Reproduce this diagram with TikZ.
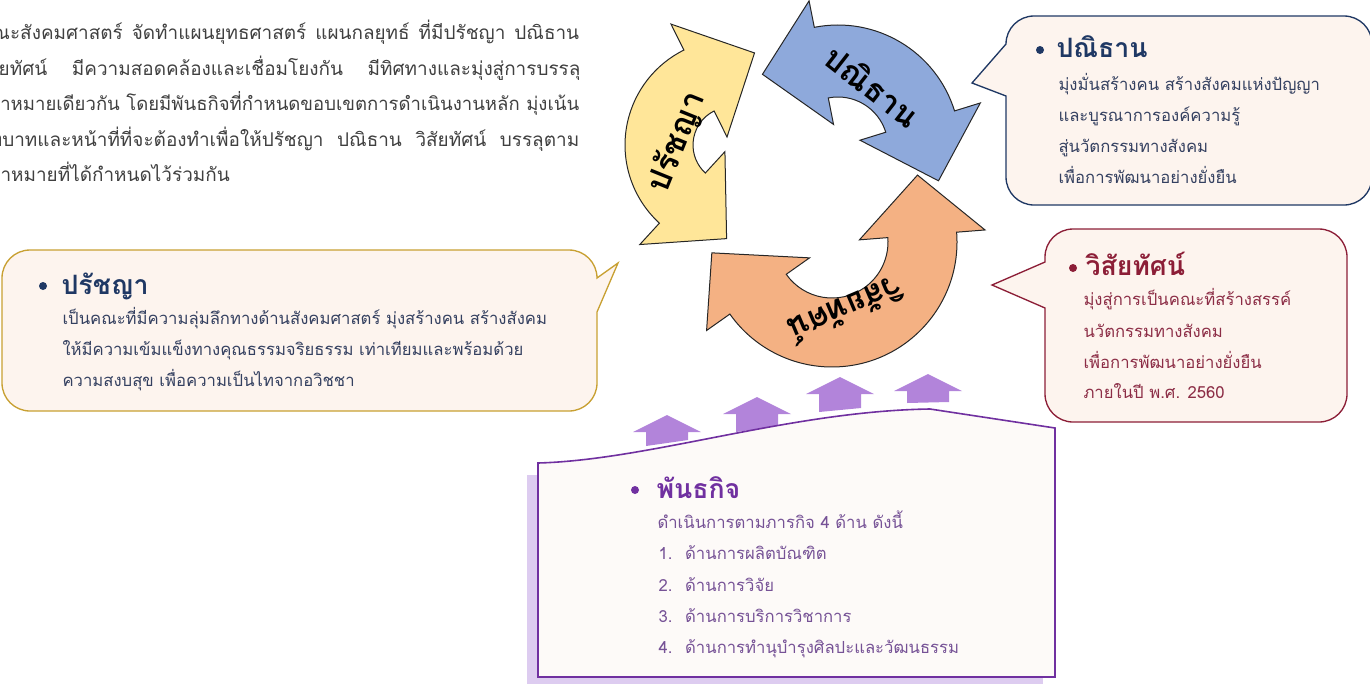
\documentclass[tikz,border=0pt]{standalone}
\usepackage{fontspec}
\setmainfont[Script=Thai]{Loma}
\usetikzlibrary{calc}

\definecolor{cyellow}{RGB}{255,230,153}
\definecolor{cblue}{RGB}{142,169,219}
\definecolor{corange}{RGB}{244,177,131}
\definecolor{cnavy}{RGB}{31,56,100}
\definecolor{cnavytext}{RGB}{52,64,96}
\definecolor{cgold}{RGB}{200,160,50}
\definecolor{cmaroon}{RGB}{140,30,55}
\definecolor{cmaroontext}{RGB}{140,45,70}
\definecolor{cpurple}{RGB}{112,48,160}
\definecolor{cpurpletext}{RGB}{118,82,150}
\definecolor{clavender}{RGB}{178,132,218}
\definecolor{cshadow}{RGB}{221,204,240}
\definecolor{cpaper}{RGB}{253,244,238}
\definecolor{cbox}{RGB}{253,250,248}
\definecolor{cgraytext}{RGB}{64,64,64}

\tikzset{every picture/.style={line width=0.75pt},
  para/.style={anchor=west, inner sep=0pt, text=cgraytext, font=\fontsize{14.2}{17}\selectfont, text height=9pt, text depth=0pt},
  bodytext/.style={anchor=west, inner sep=0pt, font=\fontsize{12.5}{15}\selectfont, text height=8pt, text depth=0pt},
  titletext/.style={anchor=west, inner sep=0pt, font=\bfseries\fontsize{20}{24}\selectfont, text height=13pt, text depth=0pt},
  arrowlabel/.style={inner sep=0pt, font=\bfseries\fontsize{24}{28}\selectfont},
  callout/.style={line width=1pt, fill=cpaper}}

% curved arrow with a head at both ends: centre, inner r, outer r, start, end, fill, tilt of end head
\newcommand{\cyclearrow}[7]{%
  \pgfmathsetmacro{\rmid}{(#2+#3)/2}
  \pgfmathsetmacro{\rbo}{\rmid+63}
  \pgfmathsetmacro{\rbi}{\rmid-63}
  \pgfmathsetmacro{\aend}{#5+90+#7}
  \pgfmathsetmacro{\astart}{#4-90}
  \draw[fill=#6, draw=black!85]
    ($(#1)+(#4:#3)$) arc[start angle=#4, end angle=#5, radius=#3]
    -- ($(#1)+(#5:\rbo)$) -- ($(#1)+(#5:\rmid)+(\aend:62)$) -- ($(#1)+(#5:\rbi)$)
    -- ($(#1)+(#5:#2)$) arc[start angle=#5, end angle=#4, radius=#2]
    -- ($(#1)+(#4:\rbi)$) -- ($(#1)+(#4:\rmid)+(\astart:60)$) -- ($(#1)+(#4:\rbo)$) -- cycle;
}

\begin{document}
\begin{tikzpicture}[x=0.75pt,y=0.75pt,yscale=-1,xscale=1]
	\useasboundingbox (0,0) rectangle (1370,683);

	% intro paragraph, cut at the left edge
	\node[para] (intro1) at (0,33) {\hbox to 434pt{\kern-6pt ณะสังคมศาสตร์ จัดทำแผนยุทธศาสตร์ แผนกลยุทธ์ ที่มีปรัชญา ปณิธาน}};
	\node[para] (intro2) at (0,69) {\hbox to 435pt{\kern-10pt สัยทัศน์  มีความสอดคล้องและเชื่อมโยงกัน  มีทิศทางและมุ่งสู่การบรรลุ}};
	\node[para, font=\fontsize{13.9}{17}\selectfont] (intro3) at (0,104) {\hbox to 434pt{\kern-9pt ป้าหมายเดียวกัน โดยมีพันธกิจที่กำหนดขอบเขตการดำเนินงานหลัก มุ่งเน้น}};
	\node[para] (intro4) at (0,140) {\hbox to 434pt{\kern-8pt ทบาทและหน้าที่ที่จะต้องทำเพื่อให้ปรัชญา ปณิธาน วิสัยทัศน์ บรรลุตาม}};
	\node[para] (intro5) at (0,175) {\kern-9pt ป้าหมายที่ได้กำหนดไว้ร่วมกัน};

	% cycle of arrows
	\coordinate (ycen) at (731,145);
	\coordinate (bcen) at (838,147);
	\coordinate (ocen) at (832,242);
	\cyclearrow{ycen}{38}{106}{132.5}{243.6}{cyellow}{0}
	\cyclearrow{bcen}{50}{122}{258.8}{342.8}{cblue}{0}
	\cyclearrow{ocen}{56}{125}{-4.5}{144.8}{corange}{-13}
	\node[arrowlabel, rotate=68] (lblphil) at (677,142) {ปรัชญา};
	\node[arrowlabel, rotate=-38] (lblresolve) at (873,86) {ปณิธาน};
	\node[arrowlabel, rotate=-157] (lblvision) at (846,311) {วิสัยทัศน์};

	% callout: resolution
	\draw[callout, draw=cnavy] (972,83) -- (1006,44) arc[start angle=180, end angle=270, radius=28] -- (1344,16) arc[start angle=270, end angle=360, radius=28] -- (1372,177) arc[start angle=0, end angle=90, radius=28] -- (1034,205) arc[start angle=90, end angle=180, radius=28] -- (1006,96) -- cycle;
	\fill[cnavy] (1040,50) circle (4);
	\node[titletext, text=cnavy] (restitle) at (1056,49) {ปณิธาน};
	\node[bodytext, text=cnavytext] (res1) at (1058,85) {มุ่งมั่นสร้างคน สร้างสังคมแห่งปัญญา};
	\node[bodytext, text=cnavytext] (res2) at (1058,116) {และบูรณาการองค์ความรู้};
	\node[bodytext, text=cnavytext] (res3) at (1058,147) {สู่นวัตกรรมทางสังคม};
	\node[bodytext, text=cnavytext] (res4) at (1058,178) {เพื่อการพัฒนาอย่างยั่งยืน};

	% callout: vision
	\draw[callout, draw=cmaroon] (992,285) -- (1045,262) -- (1045,257) arc[start angle=180, end angle=270, radius=28] -- (1319,229) arc[start angle=270, end angle=360, radius=28] -- (1347,394) arc[start angle=0, end angle=90, radius=28] -- (1073,422) arc[start angle=90, end angle=180, radius=28] -- (1045,308) -- cycle;
	\fill[cmaroon] (1073,268) circle (4);
	\node[titletext, text=cmaroon] (vistitle) at (1085,267) {วิสัยทัศน์};
	\node[bodytext, text=cmaroontext] (vis1) at (1083,300) {มุ่งสู่การเป็นคณะที่สร้างสรรค์};
	\node[bodytext, text=cmaroontext] (vis2) at (1083,332) {นวัตกรรมทางสังคม};
	\node[bodytext, text=cmaroontext] (vis3) at (1083,363) {เพื่อการพัฒนาอย่างยั่งยืน};
	\node[bodytext, text=cmaroontext] (vis4) at (1083,393) {ภายในปี พ.ศ. 2560};

	% callout: philosophy
	\draw[callout, draw=cgold] (618,263) -- (597,312) -- (597,383) arc[start angle=0, end angle=90, radius=28] -- (30,411) arc[start angle=90, end angle=180, radius=28] -- (2,278) arc[start angle=180, end angle=270, radius=28] -- (569,250) arc[start angle=270, end angle=360, radius=28] -- cycle;
	\fill[cnavy] (43,286) circle (4);
	\node[titletext, text=cnavy] (phititle) at (61,286) {ปรัชญา};
	\node[bodytext, text=cnavytext] (phi1) at (62,319) {เป็นคณะที่มีความลุ่มลึกทางด้านสังคมศาสตร์ มุ่งสร้างคน สร้างสังคม};
	\node[bodytext, text=cnavytext] (phi2) at (62,350) {ให้มีความเข้มแข็งทางคุณธรรมจริยธรรม เท่าเทียมและพร้อมด้วย};
	\node[bodytext, text=cnavytext] (phi3) at (62,381) {ความสงบสุข เพื่อความเป็นไทจากอวิชชา};

	% mission box with up arrows
	\foreach \ax/\ay/\bl/\br in {667/415/446/440, 757/397/432/426, 840/377/412/408, 928/374/403/402}
		\fill[clavender] (\ax-34,\ay+17) -- (\ax,\ay) -- (\ax+34,\ay+17) -- (\ax+21,\ay+17) -- (\ax+21,\br) -- (\ax-21,\bl) -- (\ax-21,\ay+17) -- cycle;
	\fill[cshadow] (527,475) rectangle (1043,690);
	\draw[draw=cpurple, fill=cbox, line width=1.2pt] (538,463) .. controls (650,460) and (790,411) .. (930,409) -- (1055,428) -- (1055,677) -- (538,677) -- cycle;
	\fill[cpurple] (635,490) circle (4);
	\node[titletext, text=cpurple] (mistitle) at (656,490) {พันธกิจ};
	\node[bodytext, text=cpurpletext] (mis0) at (657,523) {ดำเนินการตามภารกิจ 4 ด้าน ดังนี้};
	\node[bodytext, text=cpurpletext] (mis1) at (658,554) {\makebox[20pt][l]{1.}ด้านการผลิตบัณฑิต};
	\node[bodytext, text=cpurpletext] (mis2) at (658,586) {\makebox[20pt][l]{2.}ด้านการวิจัย};
	\node[bodytext, text=cpurpletext] (mis3) at (658,617) {\makebox[20pt][l]{3.}ด้านการบริการวิชาการ};
	\node[bodytext, text=cpurpletext] (mis4) at (658,648) {\makebox[20pt][l]{4.}ด้านการทำนุบำรุงศิลปะและวัฒนธรรม};
\end{tikzpicture}
\end{document}
